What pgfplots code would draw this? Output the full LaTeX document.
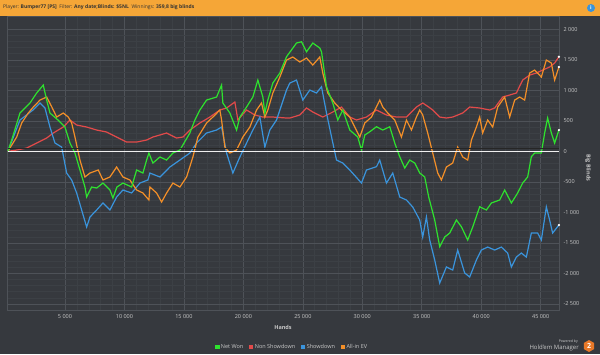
\documentclass[border=0pt]{standalone}
\usepackage{fontspec}
\setmainfont{Open Sans}
\usepackage{pgfplots}
\pgfplotsset{compat=1.18}
\usetikzlibrary{shapes.geometric}
\definecolor{bg}{RGB}{54,57,62}
\definecolor{gridmajor}{RGB}{78,82,88}
\definecolor{gridminor}{RGB}{60,64,69}
\definecolor{barorange}{RGB}{245,166,55}
\definecolor{ticktext}{RGB}{200,200,200}
\definecolor{cgreen}{RGB}{46,226,46}
\definecolor{cred}{RGB}{226,74,74}
\definecolor{cblue}{RGB}{58,148,220}
\definecolor{corange}{RGB}{243,143,40}
\definecolor{hexorange}{RGB}{232,120,40}
\begin{document}
\begin{tikzpicture}[x=1pt,y=1pt]
\fill[bg] (0,0) rectangle (600,354);
\fill[barorange] (0,338) rectangle (600,354);
\node[anchor=west, font=\fontsize{5}{6}\selectfont, text=black!80, inner sep=0] at (3,346.5)
 {Player: \textbf{Bumper77 [PS]}\ \ Filter: \textbf{Any date;Blinds: \$5NL}\ \ Winnings: \textbf{359,8 big blinds}};
\fill[cblue] (591,346) circle (4);
\node[text=white, font=\fontsize{5}{5}\selectfont\bfseries, inner sep=0] at (591,346) {i};
\begin{axis}[
  at={(7.5pt,44pt)}, anchor=south west,
  width=551.5pt, height=294pt, scale only axis,
  xmin=168, xmax=46540, ymin=-2601, ymax=2218,
  scaled x ticks=false, scaled y ticks=false,
  axis line style={draw=gridmajor},
  xtick={5000,10000,15000,20000,25000,30000,35000,40000,45000},
  xticklabels={5 000,10 000,15 000,20 000,25 000,30 000,35 000,40 000,45 000},
  ytick={-2500,-2000,-1500,-1000,-500,0,500,1000,1500,2000},
  yticklabels={-2 500,-2 000,-1 500,-1 000,-500,0,500,1 000,1 500,2 000},
  minor x tick num=4, minor y tick num=4,
  grid=both,
  major grid style={draw=gridmajor, line width=0.6pt},
  minor grid style={draw=gridminor, line width=0.45pt},
  major tick length=0pt, minor tick length=0pt,
  yticklabel pos=right,
  ticklabel style={font=\fontsize{5.5}{6}\selectfont, text=ticktext},
  yticklabel style={anchor=west, xshift=1pt},
  xticklabel style={yshift=-1pt},
  clip=true,
  legend columns=4,
  legend style={draw=none, fill=none, at={(axis description cs:0.5,0)}, anchor=center,
    yshift=-37pt, xshift=9pt, font=\fontsize{5.5}{6}\selectfont, text=ticktext,
    /tikz/every even column/.append style={column sep=4pt}},
  legend image code/.code={\fill[#1] (0pt,-1.5pt) rectangle (3.2pt,1.7pt);},
]
\addlegendimage{cgreen}
\addlegendimage{cred}
\addlegendimage{cblue}
\addlegendimage{corange}
\legend{Net Won,Non Showdown,Showdown,All-in EV}
% Non Showdown
\addplot[cred, line width=1.2pt, forget plot] coordinates {
(200,0)(941,21)(1781,54)(2622,136)(3462,218)(4017,300)(4857,398)(5420,513)(5983,431)(6823,398)(7664,349)(8504,316)(9344,234)(10184,152)(11025,152)(11865,185)(12394,234)(13546,300)(14386,218)(14915,234)(15503,349)(16344,464)(17185,562)(18025,677)(18588,710)(19285,808)(19538,513)(20269,677)(20966,595)(21638,562)(22478,562)(23629,546)(23906,546)(24746,595)(25310,710)(25839,644)(26679,562)(27520,644)(28251,726)(28948,562)(29511,513)(30352,562)(31192,677)(32032,595)(32872,562)(33712,562)(34552,726)(35081,792)(35585,726)(35921,677)(36510,562)(37073,546)(37602,562)(38443,628)(39031,726)(39871,710)(40711,677)(41132,710)(41804,890)(42392,923)(42955,956)(43484,1168)(44072,1250)(44635,1283)(45164,1332)(45752,1382)(46172,1447)(46533,1550)
};
% Showdown
\addplot[cblue, line width=1.2pt, forget plot] coordinates {
(200,0)(1218,513)(2311,677)(2899,792)(3319,710)(3739,398)(4159,136)(4722,70)(5143,-356)(5563,-470)(5983,-683)(6403,-962)(6823,-1241)(7101,-1077)(7664,-962)(8193,-847)(8781,-962)(9344,-749)(9873,-634)(10604,-683)(11302,-520)(11974,-470)(12142,-356)(12983,-421)(13823,-257)(14663,-143)(15503,-28)(16067,136)(16907,300)(17748,349)(18168,398)(18588,-28)(19117,-356)(19706,-93)(20269,136)(20798,349)(21387,562)(21806,70)(22226,349)(22789,513)(23629,1004)(23906,1119)(24469,1168)(24998,840)(25587,1004)(26150,956)(26570,1059)(26990,628)(27411,239)(27831,-143)(28360,-192)(28948,-306)(29932,-520)(30352,-306)(31192,-252)(31469,-143)(32032,-520)(32561,-356)(33149,-749)(33712,-798)(34241,-913)(34829,-1126)(35081,-1405)(35392,-1077)(35669,-1454)(36089,-1782)(36510,-2159)(37073,-1896)(37602,-1946)(38022,-1618)(38611,-1995)(39031,-2060)(39594,-1782)(40014,-1618)(40543,-1569)(41132,-1618)(41695,-1569)(42224,-1667)(42535,-1896)(42955,-1733)(43375,-1667)(43795,-1733)(44215,-1339)(44744,-1339)(45055,-1454)(45475,-913)(45752,-1126)(46004,-1339)(46533,-1208)
};
% All-in EV
\addplot[corange, line width=1.2pt, forget plot] coordinates {
(200,0)(941,234)(1361,464)(1916,628)(2336,726)(2899,840)(3462,890)(3882,731)(4302,562)(4857,628)(5277,562)(5563,464)(5840,234)(6260,-143)(6680,-421)(7101,-356)(7798,-306)(8193,-470)(8781,-421)(9344,-257)(9873,-421)(10461,-470)(11025,-634)(11554,-683)(12058,-798)(12142,-585)(12705,-683)(13125,-831)(13546,-683)(14075,-520)(14663,-585)(15226,-421)(15756,-93)(16176,234)(16907,464)(17437,562)(18025,677)(18168,513)(18445,70)(18865,-28)(19428,21)(19958,234)(20546,398)(21109,677)(21525,792)(21806,562)(22058,677)(22478,956)(23066,1218)(23629,1496)(24158,1546)(24746,1464)(25310,1529)(25839,1414)(26427,1546)(26679,1283)(27099,956)(27688,792)(28251,677)(28948,562)(29369,398)(29789,234)(30209,464)(30772,562)(31469,840)(31721,726)(32141,628)(32729,513)(33292,234)(33712,513)(34132,349)(34552,562)(34829,677)(35081,595)(35501,300)(35921,-28)(36342,-356)(36652,-470)(37073,-257)(37602,-192)(38022,70)(38443,-93)(38863,-143)(39174,185)(39594,398)(39871,562)(40123,300)(40543,513)(40964,398)(41384,726)(41972,890)(42392,562)(42812,840)(43232,890)(43652,840)(44072,1283)(44492,1332)(45055,1218)(45475,1496)(45895,1447)(46172,1168)(46533,1382)
};
% Net Won
\addplot[cgreen, line width=1.2pt, forget plot] coordinates {
(200,0)(521,185)(1218,628)(2059,792)(2622,956)(3176,1086)(3462,840)(3739,628)(4412,513)(5000,398)(5420,136)(5840,-28)(6260,-306)(6680,-585)(6823,-749)(7243,-585)(7664,-602)(8193,-520)(8781,-634)(9033,-765)(9369,-585)(9873,-520)(10604,-585)(11025,-306)(11554,-356)(11865,-143)(12058,-28)(12394,-192)(12983,-93)(13546,-143)(14075,-28)(14663,21)(15503,300)(15924,513)(16344,677)(16907,840)(17748,890)(18168,1086)(18277,792)(18865,628)(19428,349)(19706,562)(20269,726)(20798,890)(21218,1168)(21638,890)(21806,628)(22058,840)(22478,1119)(23066,1283)(23629,1550)(24469,1775)(24889,1796)(25310,1632)(25839,1775)(26427,1693)(26570,1632)(26990,1059)(27520,792)(27940,513)(28360,677)(28948,349)(29621,234)(29932,21)(30209,267)(30629,321)(31192,403)(31721,349)(32309,403)(32729,136)(33149,-89)(33569,-274)(33989,-143)(34409,-192)(34829,-356)(35249,-421)(35585,-749)(36089,-1126)(36510,-1564)(36930,-1405)(37350,-1339)(37913,-1126)(38333,-1236)(38863,-1454)(39283,-1241)(39871,-908)(40434,-962)(40854,-847)(41552,-798)(41972,-634)(42535,-847)(43064,-683)(43484,-520)(43904,-421)(44215,-89)(44492,-28)(45055,-28)(45332,300)(45584,546)(45895,300)(46172,136)(46533,349)
};
\draw[black!85, line width=0.7pt] (axis cs:168,42) -- (axis cs:46540,42);
\draw[white!88!gray, line width=1.6pt] (axis cs:168,0) -- (axis cs:46540,0);
\addplot[only marks, mark=*, mark size=0.9pt, white, forget plot] coordinates {
(46533,1550)(46533,1382)(46533,349)(46533,-1208)};
\end{axis}
\node[font=\fontsize{5.5}{6}\selectfont\bfseries, text=ticktext] at (283,27) {Hands};
\node[font=\fontsize{5.5}{6}\selectfont\bfseries, text=ticktext, rotate=-90] at (588,186) {Big Blinds};
\node[font=\fontsize{3.5}{4}\selectfont, text=ticktext!80, anchor=east, inner sep=0] at (578,12.5) {Powered by};
\node[font=\fontsize{6}{7}\selectfont, text=ticktext, anchor=east, inner sep=0] at (579,6.5) {Hold'em Manager};
\node[regular polygon, regular polygon sides=6, fill=hexorange, minimum size=12pt, inner sep=0, rotate=30] at (589,8) {};
\node[text=white, font=\fontsize{7}{7}\selectfont\bfseries, inner sep=0] at (589,8) {2};
\end{tikzpicture}
\end{document}
